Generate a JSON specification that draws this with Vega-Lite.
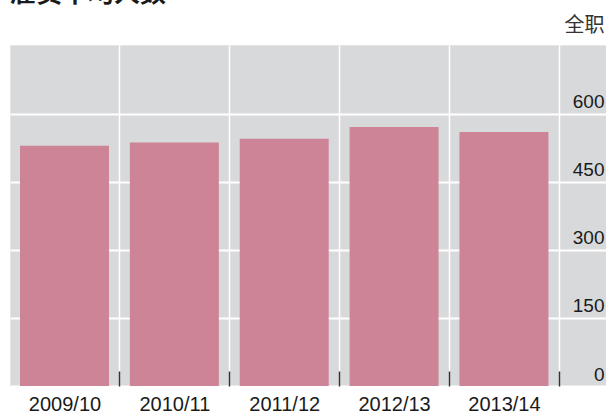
{
  "$schema": "https://vega.github.io/schema/vega-lite/v6.json",
  "width": 596,
  "height": 341,
  "autosize": {"type": "none"},
  "padding": {"left": 10, "top": 45, "right": 0, "bottom": 30},
  "background": "white",
  "title": {"text": "雇员平均人数", "anchor": "start", "frame": "group", "fontSize": 26, "fontWeight": "bold", "font": "Noto Sans CJK SC", "color": "#1a1a1a", "baseline": "bottom", "offset": 0, "dy": 18},
  "data": {"values": [
    {"year": "2009/10", "value": 530},
    {"year": "2010/11", "value": 537},
    {"year": "2011/12", "value": 545},
    {"year": "2012/13", "value": 571},
    {"year": "2013/14", "value": 560}
  ]},
  "mark": {"type": "bar", "color": "#ce8497"},
  "encoding": {
    "x": {
      "field": "year", "type": "nominal", "sort": null,
      "scale": {"paddingInner": 0.19, "paddingOuter": 0.3075, "align": 0.148},
      "axis": {
        "title": null, "orient": "bottom", "domain": false,
        "grid": true, "gridColor": "white", "gridWidth": 1.5, "gridOpacity": 1,
        "bandPosition": 1, "tickOffset": 10.43,
        "ticks": true, "tickSize": -15, "tickColor": "#333", "tickWidth": 1.5,
        "labelOffset": -10.43, "labelFontSize": 20, "labelFont": "Liberation Sans",
        "labelColor": "#1a1a1a", "labelPadding": 23, "labelAngle": 0
      }
    },
    "y": {
      "field": "value", "type": "quantitative",
      "scale": {"domain": [0, 752], "nice": false},
      "axis": {
        "orient": "right", "values": [0, 150, 300, 450, 600],
        "domain": false, "ticks": false,
        "grid": true, "gridColor": "white", "gridWidth": 2, "gridOpacity": 1,
        "labelAlign": "right", "labelPadding": -2, "labelBaseline": "alphabetic", "labelOffset": -6,
        "labelFontSize": 19, "labelFont": "Liberation Sans", "labelColor": "#1a1a1a",
        "title": "全职", "titleAngle": 0, "titleAlign": "right", "titleBaseline": "alphabetic",
        "titleX": -2, "titleY": -14, "titleFontSize": 20, "titleFontWeight": "normal",
        "titleFont": "Noto Sans CJK SC", "titleColor": "#333"
      }
    }
  },
  "config": {"view": {"fill": "#d8d9db", "stroke": "#e6e6e6"}}
}
